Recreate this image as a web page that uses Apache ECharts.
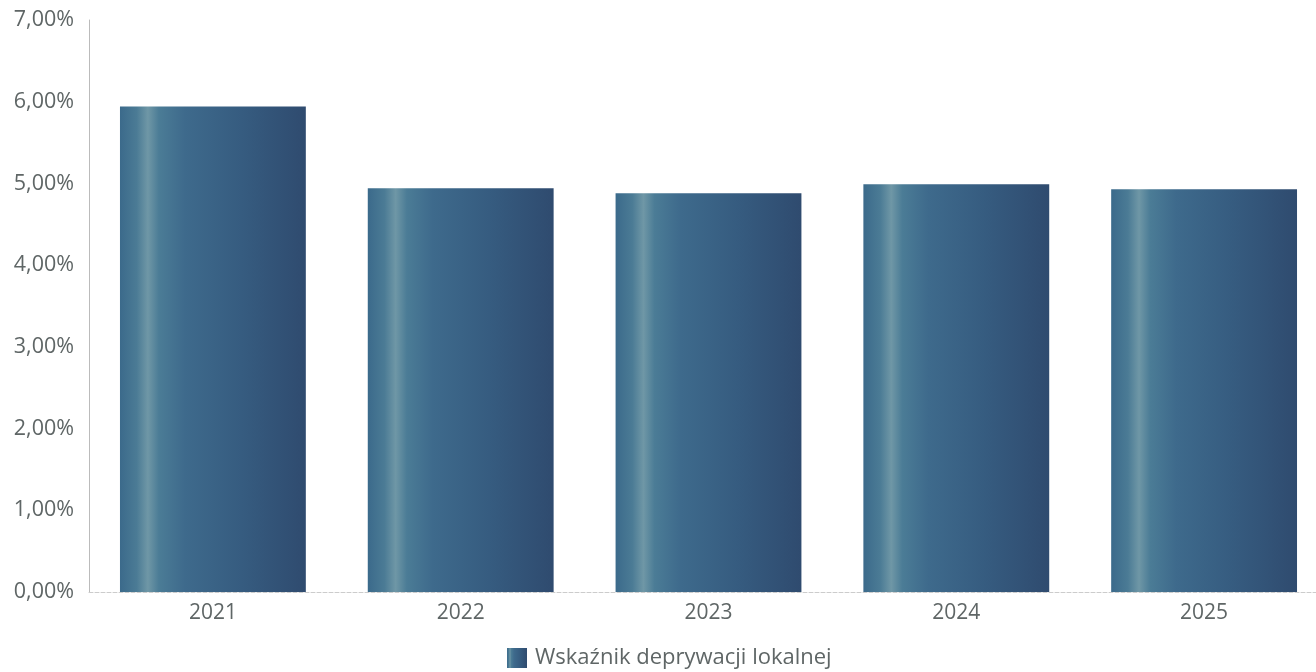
<!DOCTYPE html>
<html>
<head>
<meta charset="utf-8">
<script src="https://cdn.jsdelivr.net/npm/echarts@6/dist/echarts.min.js"></script>
<style>
html,body{margin:0;padding:0;background:#fff;}
#chart{width:1316px;height:672px;}
</style>
</head>
<body>
<div id="chart"></div>
<script>
var categories = ['2021', '2022', '2023', '2024', '2025'];
var values = [5.94, 4.94, 4.88, 4.99, 4.93];
var seriesName = 'Wskaźnik deprywacji lokalnej';

var barGradient = new echarts.graphic.LinearGradient(0, 0, 1, 0, [
  {offset: 0, color: '#3b6a8b'},
  {offset: 0.09, color: '#4b7b95'},
  {offset: 0.15, color: '#6f97a6'},
  {offset: 0.21, color: '#4b7c96'},
  {offset: 0.35, color: '#3e6a8c'},
  {offset: 0.65, color: '#365c80'},
  {offset: 1, color: '#2f4b6f'}
]);

var chart = echarts.init(document.getElementById('chart'), null, {renderer: 'canvas'});
chart.setOption({
  animation: false,
  textStyle: {fontFamily: '"Open Sans", sans-serif'},
  grid: {left: 89, width: 1239, top: 20, bottom: 80, containLabel: false, outerBoundsMode: 'none'},
  legend: {
    top: 642,
    left: 502,
    itemWidth: 20,
    itemHeight: 20,
    itemGap: 10,
    icon: 'rect',
    textStyle: {fontSize: 22, color: '#5f6666', fontFamily: '"Open Sans", sans-serif', padding: [0, 0, 0, 3]},
    data: [seriesName]
  },
  xAxis: {
    type: 'category',
    data: categories,
    axisLine: {lineStyle: {color: '#ccc', type: 'dashed', width: 1}},
    axisTick: {show: false},
    axisLabel: {fontSize: 21, color: '#5f6666', margin: 11}
  },
  yAxis: {
    type: 'value',
    min: 0,
    max: 7,
    interval: 1,
    axisLine: {show: true, lineStyle: {color: '#bbb'}},
    axisTick: {show: false},
    splitLine: {show: false},
    axisLabel: {
      fontSize: 21.5,
      color: '#5f6666',
      margin: 15,
      formatter: function (v) { return v.toFixed(2).replace('.', ',') + '%'; }
    }
  },
  series: [{
    name: seriesName,
    type: 'bar',
    data: values,
    barWidth: '75%',
    itemStyle: {color: barGradient}
  }]
});
</script>
</body>
</html>
